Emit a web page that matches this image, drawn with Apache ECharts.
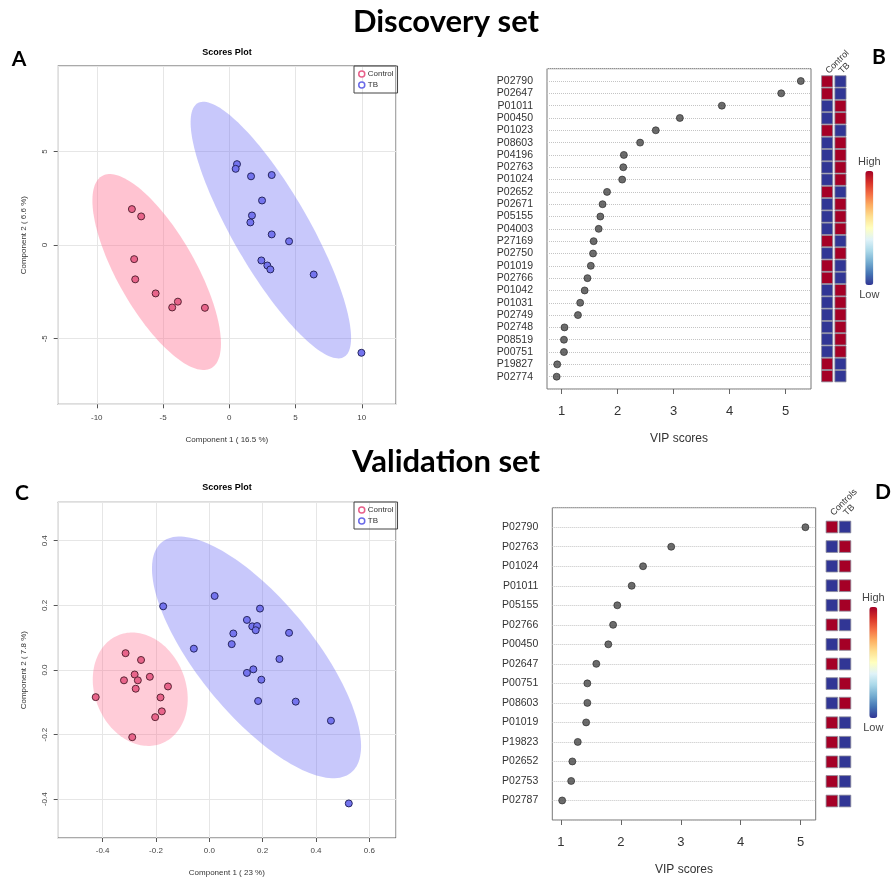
<!DOCTYPE html>
<html>
<head>
<meta charset="utf-8">
<script src="https://cdn.jsdelivr.net/npm/echarts@6/dist/echarts.min.js"></script>
<style>
  html, body { margin: 0; padding: 0; background: #fff; }
  #chart { width: 892px; height: 878px; }
</style>
</head>
<body>
<div id="chart"></div>
<script>
// ---- Discovery set: PLS-DA scores (Component 1, Component 2) ----
const discControl = [[-7.35, 1.92], [-6.65, 1.53], [-7.18, -0.75], [-7.10, -1.83], [-5.56, -2.58],
  [-3.88, -3.02], [-4.31, -3.33], [-1.84, -3.35]];
const discTB = [[0.58, 4.32], [0.48, 4.07], [1.64, 3.67], [3.20, 3.74], [2.47, 2.38], [1.71, 1.58],
  [1.59, 1.21], [3.20, 0.57], [4.51, 0.20], [2.42, -0.82], [2.87, -1.09], [3.10, -1.30],
  [6.37, -1.57], [9.97, -5.75]];
// 95% regions: [centre x, centre y, half-range x, half-range y, correlation]
const discControlRegion = [-5.48, -1.44, 4.85, 5.23, -0.73];
const discTBRegion = [3.135, 0.80, 6.055, 6.85, -0.84];

// ---- Validation set: PLS-DA scores ----
const valControl = [[-0.314, 0.052], [-0.256, 0.031], [-0.280, -0.014], [-0.320, -0.032],
  [-0.268, -0.032], [-0.223, -0.021], [-0.276, -0.058], [-0.155, -0.051], [-0.183, -0.085],
  [-0.426, -0.084], [-0.178, -0.128], [-0.203, -0.146], [-0.289, -0.208]];
const valTB = [[0.020, 0.229], [-0.173, 0.197], [0.190, 0.190], [0.141, 0.155], [0.161, 0.135],
  [0.179, 0.136], [0.174, 0.123], [0.090, 0.113], [0.299, 0.115], [0.084, 0.080],
  [-0.058, 0.066], [0.263, 0.034], [0.165, 0.002], [0.141, -0.009], [0.195, -0.030],
  [0.183, -0.096], [0.324, -0.098], [0.456, -0.157], [0.523, -0.413]];
const valControlRegion = [-0.259, -0.0595, 0.178, 0.1755, -0.17];
const valTBRegion = [0.177, 0.039, 0.392, 0.374, -0.735];

// ---- Discovery set: VIP scores and group levels (1 = high, 0 = low) ----
const discProteins = ['P02790', 'P02647', 'P01011', 'P00450', 'P01023', 'P08603', 'P04196', 'P02763',
  'P01024', 'P02652', 'P02671', 'P05155', 'P04003', 'P27169', 'P02750', 'P01019', 'P02766',
  'P01042', 'P01031', 'P02749', 'P02748', 'P08519', 'P00751', 'P19827', 'P02774'];
const discVip = [5.27, 4.92, 3.86, 3.11, 2.68, 2.40, 2.11, 2.10, 2.08, 1.81, 1.73, 1.69, 1.66,
  1.57, 1.56, 1.52, 1.46, 1.41, 1.33, 1.29, 1.05, 1.04, 1.04, 0.92, 0.91];
const discControlLevel = [1, 1, 0, 0, 1, 0, 0, 0, 0, 1, 0, 0, 0, 1, 0, 1, 1, 0, 0, 0, 0, 0, 0, 1, 1];
const discTBLevel = [0, 0, 1, 1, 0, 1, 1, 1, 1, 0, 1, 1, 1, 0, 1, 0, 0, 1, 1, 1, 1, 1, 1, 0, 0];
const discGroups = ['Control', 'TB'];

// ---- Validation set: VIP scores and group levels ----
const valProteins = ['P02790', 'P02763', 'P01024', 'P01011', 'P05155', 'P02766', 'P00450', 'P02647',
  'P00751', 'P08603', 'P01019', 'P19823', 'P02652', 'P02753', 'P02787'];
const valVip = [5.08, 2.84, 2.37, 2.18, 1.94, 1.87, 1.79, 1.59, 1.44, 1.44, 1.42, 1.28, 1.19, 1.17, 1.02];
const valControlLevel = [1, 0, 0, 0, 0, 1, 0, 1, 0, 0, 1, 1, 1, 1, 1];
const valTBLevel = [0, 1, 1, 1, 1, 0, 1, 0, 1, 1, 0, 0, 0, 0, 0];
const valGroups = ['Controls', 'TB'];

const RdYlBu = ['#313695', '#4575b4', '#74add1', '#abd9e9', '#e0f3f8', '#ffffbf',
  '#fee090', '#fdae61', '#f46d43', '#d73027', '#a50026'];
const FONT = 'Liberation Sans';

// rows are laid out top-down: first protein on the highest row
const vipPoints = (vip) => vip.map((v, i) => [v, vip.length - i]);
const levelCells = (ctl, tb) => {
  const n = ctl.length, out = [];
  ctl.forEach((v, i) => out.push([0, n - i, v]));
  tb.forEach((v, i) => out.push([1, n - i, v]));
  return out;
};

function regionSeries(name, region, xi, fill) {
  return {
    type: 'custom', name: name + ' region', xAxisIndex: xi, yAxisIndex: xi, clip: true, silent: true,
    data: [region], encode: { x: 0, y: 1 }, z: 1,
    renderItem(params, api) {
      const cx = api.value(0), cy = api.value(1), hx = api.value(2), hy = api.value(3), r = api.value(4);
      const d = Math.acos(r);
      const pts = [];
      for (let k = 0; k <= 160; k++) {
        const a = (k / 160) * 2 * Math.PI;
        pts.push(api.coord([cx + hx * Math.cos(a + d / 2), cy + hy * Math.cos(a - d / 2)]));
      }
      return { type: 'polygon', shape: { points: pts }, style: { fill: fill } };
    }
  };
}

function scoreSeries(name, data, xi, fill, stroke) {
  return {
    type: 'scatter', name, xAxisIndex: xi, yAxisIndex: xi, data, symbolSize: 7, z: 3,
    itemStyle: { color: fill, borderColor: stroke, borderWidth: 1, opacity: 1 }
  };
}

function cellSeries(data, axisIdx, widthFrac, heightFrac) {
  return {
    type: 'custom', xAxisIndex: axisIdx, yAxisIndex: axisIdx, data, encode: { x: 0, y: 1 },
    renderItem(params, api) {
      const c = api.coord([api.value(0), api.value(1)]);
      const s = api.size([1, 1]);
      const w = s[0] * widthFrac, h = s[1] * heightFrac;
      return {
        type: 'rect', shape: { x: c[0] - w / 2, y: c[1] - h / 2, width: w, height: h },
        style: { fill: api.visual('color'), stroke: '#8a8a9a', lineWidth: 0.8 }
      };
    }
  };
}

function scoreXAxis(gi, min, max, split, name, fmt) {
  return {
    type: 'value', gridIndex: gi, min, max, splitNumber: split, name, nameLocation: 'middle', nameGap: 31,
    nameTextStyle: { fontFamily: FONT, fontSize: 8, color: '#333' },
    axisLine: { show: false, onZero: false }, axisTick: { show: true, length: 4, lineStyle: { color: '#555' } },
    axisLabel: { fontFamily: FONT, fontSize: 8, color: '#444', margin: 9, showMinLabel: false, showMaxLabel: false, formatter: fmt },
    splitLine: { show: true, lineStyle: { color: '#e6e6e6', width: 1 } }
  };
}
function scoreYAxis(gi, min, max, split, name, fmt) {
  return {
    type: 'value', gridIndex: gi, min, max, splitNumber: split, name, nameLocation: 'middle', nameGap: 30,
    nameRotate: 90, nameTextStyle: { fontFamily: FONT, fontSize: 8, color: '#333' },
    axisLine: { show: false, onZero: false }, axisTick: { show: true, length: 4, lineStyle: { color: '#555' } },
    axisLabel: { fontFamily: FONT, fontSize: 8, color: '#444', margin: 9, rotate: 90, showMinLabel: false, showMaxLabel: false, formatter: fmt },
    splitLine: { show: true, lineStyle: { color: '#e6e6e6', width: 1 } }
  };
}
function vipXAxis(gi, min, max) {
  return {
    type: 'value', gridIndex: gi, min, max, splitNumber: 5, name: 'VIP scores', nameLocation: 'middle', nameGap: 44,
    nameTextStyle: { fontFamily: FONT, fontSize: 12, color: '#333' },
    axisLine: { show: false, onZero: false }, axisTick: { show: true, length: 5, lineStyle: { color: '#666' } },
    axisLabel: { fontFamily: FONT, fontSize: 13, color: '#333', margin: 16, showMinLabel: false, showMaxLabel: false },
    splitLine: { show: false }
  };
}
function vipYAxis(gi, names) {
  const n = names.length;
  return {
    type: 'value', gridIndex: gi, min: 0, max: n + 1, interval: 1,
    axisLine: { show: false, onZero: false }, axisTick: { show: false },
    axisLabel: { fontFamily: FONT, fontSize: 10.5, color: '#333', margin: 14,
      formatter: (v) => (v >= 1 && v <= n ? names[n - v] : '') },
    splitLine: { show: true, lineStyle: { type: 'dotted', color: '#c4c4c4', width: 1 } }
  };
}
function cellXAxis(gi, groups) {
  return {
    type: 'category', gridIndex: gi, data: groups, position: 'top',
    axisLine: { show: false, onZero: false }, axisTick: { show: false }, splitLine: { show: false },
    axisLabel: { fontFamily: FONT, fontSize: 9, color: '#333', rotate: -45, margin: 3, interval: 0 }
  };
}
function cellYAxis(gi, n) {
  return { type: 'value', gridIndex: gi, min: 0.5, max: n + 0.5, show: false };
}

const legendOf = (left, top) => ({
  left, top, orient: 'vertical', itemGap: 3, itemWidth: 6, itemHeight: 6,
  padding: [4, 4, 4, 4], borderColor: '#444', borderWidth: 1, selectedMode: false,
  textStyle: { fontFamily: FONT, fontSize: 8, color: '#333', padding: [0, 0, 0, -2] },
  data: [
    { name: 'Control', icon: 'circle', itemStyle: { color: '#fff', borderColor: '#e8608a', borderWidth: 1.5 } },
    { name: 'TB', icon: 'circle', itemStyle: { color: '#fff', borderColor: '#6a6ae8', borderWidth: 1.5 } }
  ]
});

const colorBar = (seriesIndex, left, top, height) => ({
  type: 'continuous', seriesIndex, dimension: 2, min: 0, max: 1, orient: 'vertical',
  left, top, itemWidth: 8, itemHeight: height, text: ['High', 'Low'], textGap: 4, calculable: false,
  realtime: false, hoverLink: false, padding: 0,
  textStyle: { fontFamily: FONT, fontSize: 11, color: '#444' },
  inRange: { color: RdYlBu }
});

const text = (x, y, str, font, align) => ({
  type: 'text', x, y, silent: true,
  style: { text: str, font, fill: '#000', textAlign: align || 'center', textVerticalAlign: 'middle' }
});

const chart = echarts.init(document.getElementById('chart'), null, { renderer: 'canvas' });
chart.setOption({
  animation: false,
  backgroundColor: '#fff',
  graphic: [
    text(446, 22, 'Discovery set', 'bold 31px Lato'),
    text(446, 462, 'Validation set', 'bold 31px Lato'),
    text(19, 59, 'A', 'bold 21px Lato'),
    text(879, 57, 'B', 'bold 21px Lato'),
    text(22, 493, 'C', 'bold 21px Lato'),
    text(883, 492, 'D', 'bold 21px Lato'),
    text(227, 53, 'Scores Plot', 'bold 9px "Liberation Sans"'),
    text(227, 488, 'Scores Plot', 'bold 9px "Liberation Sans"')
  ],
  grid: [
    { left: 57.7, top: 66, width: 338.3, height: 338.3, show: true, borderColor: '#555', borderWidth: 1 },
    { left: 547, top: 68.7, width: 264, height: 320.3, show: true, borderColor: '#777', borderWidth: 1 },
    { left: 820.5, top: 75.3, width: 26.6, height: 307 },
    { left: 57.7, top: 502.3, width: 338.3, height: 337.7, show: true, borderColor: '#555', borderWidth: 1 },
    { left: 552.3, top: 507.7, width: 263.4, height: 312.3, show: true, borderColor: '#777', borderWidth: 1 },
    { left: 825.3, top: 517.2, width: 26.3, height: 293.6 }
  ],
  xAxis: [
    scoreXAxis(0, -12.95, 12.58, 5, 'Component 1 ( 16.5 %)'),
    vipXAxis(1, 0.7375, 5.452),
    cellXAxis(2, discGroups),
    scoreXAxis(3, -0.5685, 0.70, 6, 'Component 1 ( 23 %)', (v) => v.toFixed(1)),
    vipXAxis(4, 0.855, 5.252),
    cellXAxis(5, valGroups)
  ],
  yAxis: [
    scoreYAxis(0, -8.5, 9.56, 4, 'Component 2 ( 6.6 %)'),
    vipYAxis(1, discProteins),
    cellYAxis(2, discProteins.length),
    scoreYAxis(3, -0.52, 0.519, 5, 'Component 2 ( 7.8 %)', (v) => v.toFixed(1)),
    vipYAxis(4, valProteins),
    cellYAxis(5, valProteins.length)
  ],
  legend: [legendOf(354, 66), legendOf(354, 502)],
  visualMap: [colorBar(7, 858, 156, 114), colorBar(13, 862, 592, 111)],
  series: [
    // 0-3: discovery scores
    regionSeries('Control', discControlRegion, 0, 'rgba(255,105,140,0.40)'),
    regionSeries('TB', discTBRegion, 0, 'rgba(110,110,245,0.38)'),
    scoreSeries('Control', discControl, 0, '#e8648a', '#5a2434'),
    scoreSeries('TB', discTB, 0, '#7474ee', '#262660'),
    // 4-5: keep series indices stable for the colour bars
    { type: 'scatter', xAxisIndex: 1, yAxisIndex: 1, data: [], silent: true },
    { type: 'scatter', xAxisIndex: 1, yAxisIndex: 1, data: [], silent: true },
    // 6: discovery VIP
    { type: 'scatter', xAxisIndex: 1, yAxisIndex: 1, data: vipPoints(discVip), symbolSize: 7,
      itemStyle: { color: '#474747', borderColor: '#222', borderWidth: 0.8 } },
    // 7: discovery group levels
    cellSeries(levelCells(discControlLevel, discTBLevel), 2, 0.84, 0.93),
    // 8-11: validation scores
    regionSeries('Control', valControlRegion, 3, 'rgba(255,105,140,0.34)'),
    regionSeries('TB', valTBRegion, 3, 'rgba(110,110,245,0.38)'),
    scoreSeries('Control', valControl, 3, '#e8648a', '#5a2434'),
    scoreSeries('TB', valTB, 3, '#7474ee', '#262660'),
    // 12: validation VIP
    { type: 'scatter', xAxisIndex: 4, yAxisIndex: 4, data: vipPoints(valVip), symbolSize: 7,
      itemStyle: { color: '#474747', borderColor: '#222', borderWidth: 0.8 } },
    // 13: validation group levels
    cellSeries(levelCells(valControlLevel, valTBLevel), 5, 0.88, 0.6)
  ]
});
</script>
</body>
</html>
